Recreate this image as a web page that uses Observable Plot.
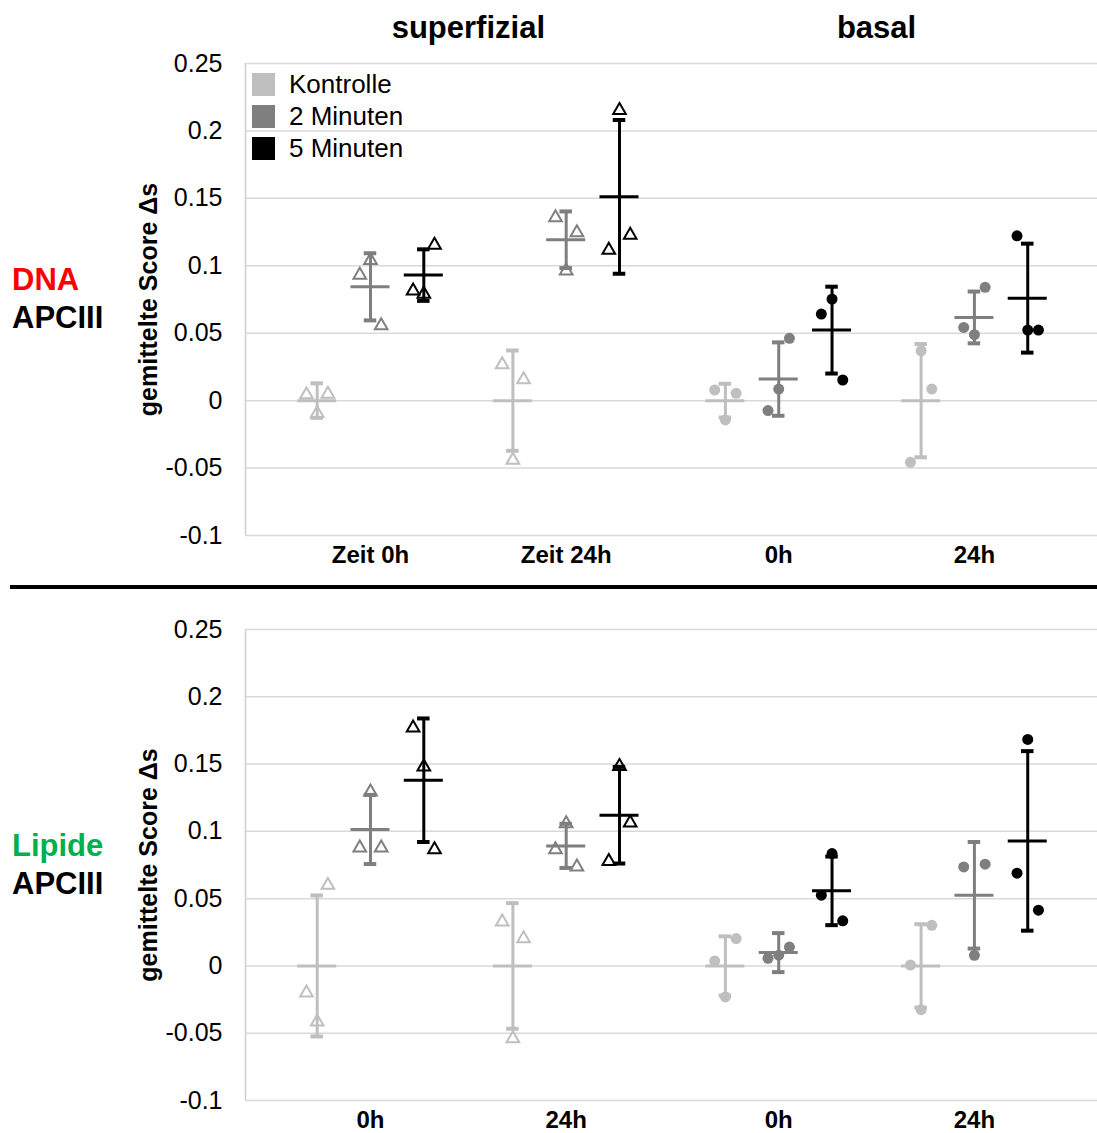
<!DOCTYPE html>
<html>
<head>
<meta charset="utf-8">
<script src="https://cdn.jsdelivr.net/npm/d3@7"></script>
<script src="https://cdn.jsdelivr.net/npm/@observablehq/plot@0.6"></script>
<style>
  body { margin: 0; background: #fff; font-family: "Liberation Sans", Arial, sans-serif; }
  #wrap { position: relative; width: 1097px; height: 1133px; overflow: hidden; background: #fff; }
  .abs { position: absolute; }
  .side { font-weight: bold; font-size: 31px; line-height: 38px; color: #000; white-space: nowrap; }
  .legend { font-size: 26px; color: #000; }
  .legend .row { display: flex; align-items: center; height: 32px; white-space: nowrap; }
  .legend .sw { width: 23px; height: 23px; margin-right: 14px; }
</style>
</head>
<body>
<div id="wrap">
  <div id="top" class="abs" style="left:0;top:0"></div>
  <div id="bottom" class="abs" style="left:0;top:590px"></div>
  <div class="abs" style="left:10px;top:585px;width:1087px;height:4px;background:#000"></div>
  <div id="sideTop" class="abs side" style="left:12px;top:261px"></div>
  <div id="sideBottom" class="abs side" style="left:12px;top:827px"></div>
  <div id="legend" class="abs legend" style="left:252px;top:68px"></div>
</div>
<script>
// ---------- data ----------
const tissues = ["superfizial", "basal"];
const times = ["0h", "24h"];
const series = ["Kontrolle", "2 Minuten", "5 Minuten"];
const seriesColors = ["#bfbfbf", "#7f7f7f", "#000000"];
const dnaTickLabels = ["Zeit 0h", "Zeit 24h", "0h", "24h"];
const lipidTickLabels = ["0h", "24h", "0h", "24h"];
const yTicks = [0.25, 0.2, 0.15, 0.1, 0.05, 0, -0.05, -0.1];
const yLabel = "gemittelte Score Δs";
const dnaSide = ["DNA", "APCIII"];
const lipidSide = ["Lipide", "APCIII"];

// group order: superfizial 0h, superfizial 24h, basal 0h, basal 24h
// column order: Kontrolle, 2 Minuten, 5 Minuten
const dnaMean = [
  [0, 0.0844, 0.0931],
  [0, 0.1193, 0.1511],
  [0, 0.0160, 0.0523],
  [0, 0.0617, 0.0760]
];
const dnaSD = [
  [0.0128, 0.0249, 0.0191],
  [0.0372, 0.0210, 0.0570],
  [0.0125, 0.0272, 0.0322],
  [0.0420, 0.0192, 0.0404]
];
const dnaPoints = [
  [[0.0044, -0.0094, 0.0049], [0.0931, 0.1040, 0.0556], [0.0815, 0.0790, 0.1153]],
  [[0.0267, -0.0440, 0.0156], [0.1358, 0.0963, 0.1247], [0.1116, 0.2153, 0.1227]],
  [[0.0079, -0.0143, 0.0054], [-0.0074, 0.0086, 0.0462], [0.0642, 0.0753, 0.0153]],
  [[-0.0457, 0.0370, 0.0086], [0.0543, 0.0489, 0.0840], [0.1222, 0.0523, 0.0523]]
];

const lipidMean = [
  [0, 0.1014, 0.1380],
  [0, 0.0892, 0.1120],
  [0, 0.0099, 0.0558],
  [0, 0.0525, 0.0929]
];
const lipidSD = [
  [0.0524, 0.0257, 0.0459],
  [0.0467, 0.0164, 0.0359],
  [0.0220, 0.0145, 0.0255],
  [0.0310, 0.0396, 0.0667]
];
const lipidPoints = [
  [[-0.0200, -0.0416, 0.0600], [0.0877, 0.1294, 0.0877], [0.1770, 0.1480, 0.0865]],
  [[0.0327, -0.0540, 0.0203], [0.0865, 0.1058, 0.0736], [0.0778, 0.1484, 0.1063]],
  [[0.0037, -0.0230, 0.0203], [0.0057, 0.0080, 0.0140], [0.0526, 0.0835, 0.0335]],
  [[0.0007, -0.0325, 0.0302], [0.0736, 0.0079, 0.0756], [0.0689, 0.1683, 0.0414]]
];

// ---------- layout (in units of one time step) ----------
const TISSUE_STEP = 2.086;
const SERIES_STEP = 0.2724;
const JITTER = 0.0547;
const CAP = 0.032;
const MEAN_HALF = 0.0997;
const X_DOMAIN = [-0.6387, 3.7149];

function groupPos(g) { return Math.floor(g / 2) * TISSUE_STEP + (g % 2); }

function buildRows(mean, sd, pts) {
  const stats = [], dots = [];
  mean.forEach((row, g) => row.forEach((m, s) => {
    const x = groupPos(g) + (s - 1) * SERIES_STEP;
    stats.push({series: series[s], x, mean: m, lo: m - sd[g][s], hi: m + sd[g][s]});
    pts[g][s].forEach((v, r) => dots.push({
      series: series[s], tissue: tissues[Math.floor(g / 2)],
      x: x + (r - 1) * JITTER, value: v
    }));
  }));
  return {stats, dots};
}

function panel({mean, sd, pts, tickLabels, height, marginTop, marginBottom, showTitles}) {
  const {stats, dots} = buildRows(mean, sd, pts);
  const marks = [
    Plot.ruleY(yTicks, {stroke: "#d9d9d9", strokeWidth: 1.5}),
    Plot.ruleX([X_DOMAIN[0]], {stroke: "#cfcfcf", strokeWidth: 1.5}),
    Plot.ruleX(stats, {x: "x", y1: "lo", y2: "hi", stroke: "series", strokeWidth: 3}),
    Plot.ruleY(stats, {x1: d => d.x - CAP, x2: d => d.x + CAP, y: "hi", stroke: "series", strokeWidth: 4}),
    Plot.ruleY(stats, {x1: d => d.x - CAP, x2: d => d.x + CAP, y: "lo", stroke: "series", strokeWidth: 4}),
    Plot.ruleY(stats, {x1: d => d.x - MEAN_HALF, x2: d => d.x + MEAN_HALF, y: "mean", stroke: "series", strokeWidth: 3}),
    Plot.dot(dots.filter(d => d.tissue === "superfizial"), {
      x: "x", y: "value", symbol: "triangle", r: 4.7, stroke: "series", strokeWidth: 2, fill: "none"
    }),
    Plot.dot(dots.filter(d => d.tissue === "basal"), {
      x: "x", y: "value", r: 5.5, fill: "series", stroke: null
    }),
    Plot.text(tickLabels, {
      x: (d, i) => groupPos(i), text: d => d, frameAnchor: "bottom", dy: 20,
      lineAnchor: "middle", fontWeight: "bold", fontSize: 24, fill: "#000"
    }),
    Plot.text([yLabel], {
      text: d => d, frameAnchor: "left", rotate: -90, dx: -97, textAnchor: "middle",
      lineAnchor: "middle", fontWeight: "bold", fontSize: 25, fill: "#000"
    })
  ];
  if (showTitles) {
    marks.push(Plot.text(tissues, {
      x: (d, i) => i * TISSUE_STEP + 0.5, text: d => d, frameAnchor: "top", dy: -35,
      lineAnchor: "middle", fontWeight: "bold", fontSize: 31, fill: "#000"
    }));
  }
  return Plot.plot({
    width: 1097, height, marginLeft: 245, marginRight: 0, marginTop, marginBottom,
    style: {fontFamily: "'Liberation Sans', Arial, sans-serif", fontSize: "25px", color: "#000", background: "transparent"},
    x: {domain: X_DOMAIN, axis: null},
    y: {domain: [-0.1, 0.25], ticks: yTicks, tickFormat: d => String(d), tickSize: 0, tickPadding: 23, label: null},
    color: {domain: series, range: seriesColors},
    marks
  });
}

document.getElementById("top").appendChild(panel({
  mean: dnaMean, sd: dnaSD, pts: dnaPoints, tickLabels: dnaTickLabels,
  height: 590, marginTop: 63, marginBottom: 55, showTitles: true
}));
document.getElementById("bottom").appendChild(panel({
  mean: lipidMean, sd: lipidSD, pts: lipidPoints, tickLabels: lipidTickLabels,
  height: 543, marginTop: 39, marginBottom: 33, showTitles: false
}));

// side labels
function side(el, lines, color) {
  el.innerHTML = "";
  lines.forEach((t, i) => {
    const d = document.createElement("div");
    d.textContent = t;
    if (i === 0) d.style.color = color;
    el.appendChild(d);
  });
}
side(document.getElementById("sideTop"), dnaSide, "#ff0000");
side(document.getElementById("sideBottom"), lipidSide, "#00b050");

// legend
const leg = document.getElementById("legend");
series.forEach((s, i) => {
  const row = document.createElement("div");
  row.className = "row";
  const sw = document.createElement("div");
  sw.className = "sw";
  sw.style.background = seriesColors[i];
  const lab = document.createElement("span");
  lab.textContent = s;
  row.appendChild(sw); row.appendChild(lab);
  leg.appendChild(row);
});
</script>
</body>
</html>
